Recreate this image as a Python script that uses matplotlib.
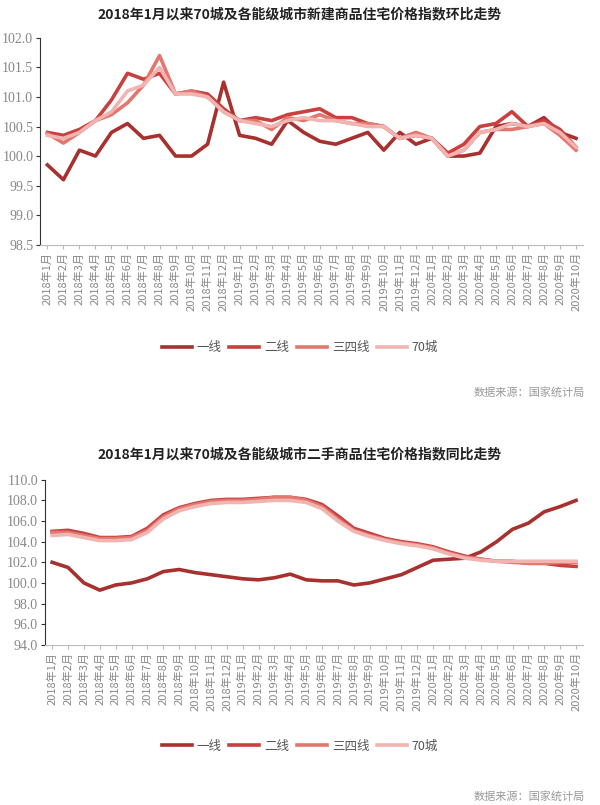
import matplotlib
matplotlib.use("Agg")
import matplotlib.pyplot as plt

plt.rcParams['font.family'] = ['Noto Sans CJK SC', 'DejaVu Sans']

months = [f"{y}年{m}月" for y in (2018, 2019, 2020) for m in range(1, 13)][:34]
names = ["一线", "二线", "三四线", "70城"]
colors = ["#a8302f", "#c9403f", "#e27770", "#f2b4b0"]

new_t1 = [99.85, 99.6, 100.1, 100.0, 100.4, 100.55, 100.3, 100.35, 100.0, 100.0, 100.2, 101.25,
          100.35, 100.3, 100.2, 100.6, 100.4, 100.25, 100.2, 100.3, 100.4, 100.1, 100.4, 100.2,
          100.3, 100.0, 100.0, 100.05, 100.5, 100.55, 100.5, 100.65, 100.4, 100.3]
new_t2 = [100.4, 100.35, 100.45, 100.6, 100.95, 101.4, 101.3, 101.4, 101.05, 101.1, 101.05, 100.8,
          100.6, 100.65, 100.6, 100.7, 100.75, 100.8, 100.65, 100.65, 100.55, 100.5, 100.3, 100.35,
          100.3, 100.05, 100.2, 100.5, 100.55, 100.75, 100.5, 100.6, 100.45, 100.15]
new_t3 = [100.38, 100.22, 100.4, 100.6, 100.7, 100.9, 101.2, 101.7, 101.05, 101.1, 101.0, 100.75,
          100.6, 100.6, 100.45, 100.65, 100.6, 100.7, 100.6, 100.55, 100.55, 100.5, 100.3, 100.4,
          100.3, 100.0, 100.1, 100.4, 100.45, 100.45, 100.5, 100.55, 100.35, 100.1]
new_70 = [100.35, 100.3, 100.4, 100.6, 100.75, 101.1, 101.2, 101.5, 101.05, 101.05, 101.0, 100.75,
          100.6, 100.55, 100.5, 100.6, 100.65, 100.6, 100.6, 100.55, 100.5, 100.5, 100.3, 100.35,
          100.3, 100.0, 100.1, 100.4, 100.45, 100.55, 100.5, 100.55, 100.4, 100.15]

old_t1 = [102.0, 101.5, 100.0, 99.3, 99.8, 100.0, 100.4, 101.1, 101.3, 101.0, 100.8, 100.6,
          100.4, 100.3, 100.5, 100.85, 100.3, 100.2, 100.2, 99.8, 100.0, 100.4, 100.8, 101.5,
          102.2, 102.3, 102.4, 103.0, 104.0, 105.2, 105.8, 106.9, 107.4, 108.0]
old_t2 = [105.0, 105.1, 104.8, 104.4, 104.4, 104.5, 105.3, 106.6, 107.3, 107.7, 108.0, 108.1,
          108.1, 108.2, 108.3, 108.3, 108.1, 107.6, 106.5, 105.3, 104.8, 104.3, 104.0, 103.8,
          103.5, 103.0, 102.6, 102.3, 102.1, 102.1, 101.9, 101.9, 101.7, 101.6]
old_t3 = [104.9, 104.9, 104.6, 104.3, 104.3, 104.4, 105.1, 106.4, 107.2, 107.6, 107.9, 108.0,
          108.0, 108.1, 108.3, 108.3, 108.0, 107.4, 106.2, 105.1, 104.6, 104.2, 103.9, 103.7,
          103.4, 102.9, 102.5, 102.3, 102.1, 102.0, 101.9, 101.9, 102.0, 102.0]
old_70 = [104.6, 104.7, 104.4, 104.1, 104.1, 104.2, 104.9, 106.2, 107.0, 107.4, 107.7, 107.8,
          107.8, 107.9, 108.0, 108.0, 107.8, 107.2, 106.0, 105.0, 104.5, 104.1, 103.8, 103.6,
          103.3, 102.8, 102.4, 102.2, 102.1, 102.1, 102.1, 102.1, 102.1, 102.1]

fig = plt.figure(figsize=(6, 8.05), dpi=100)

def panel(rect, title, series, ylim, yticks, title_y, legend_y, src_y):
    ax = fig.add_axes(rect)
    x = range(len(months))
    for s, n, c in zip(series, names, colors):
        ax.plot(x, s, color=c, lw=2.6, label=n, solid_joinstyle='round')
    ax.set_xlim(-0.45, len(months) - 0.55)
    ax.set_ylim(*ylim)
    ax.set_yticks(yticks)
    ax.set_yticklabels([f"{v:.1f}" for v in yticks], family='Liberation Serif', fontsize=10, color='#888888')
    ax.set_xticks(list(x))
    ax.set_xticklabels(months, rotation=90, fontsize=8, color='#888888')
    for sp in ('top', 'right'):
        ax.spines[sp].set_visible(False)
    ax.spines['left'].set_color('#333333')
    ax.spines['bottom'].set_color('#bbbbbb')
    ax.tick_params(axis='y', length=3, color='#333333', pad=2)
    ax.tick_params(axis='x', length=3, color='#bbbbbb', pad=2)
    fig.text(0.5, title_y, title, ha='center', va='center', fontsize=10, fontweight='bold', color='#222222')
    ax.legend(loc='center', bbox_to_anchor=(0.5, legend_y), bbox_transform=fig.transFigure,
              ncol=4, frameon=False, fontsize=9, handlelength=2.4, columnspacing=0.6,
              handletextpad=0.4, labelcolor='#555555')
    fig.text(0.975, src_y, "数据来源：国家统计局", ha='right', va='center', fontsize=8, color='#999999')
    return ax

panel([0.067, 0.696, 0.905, 0.257], "2018年1月以来70城及各能级城市新建商品住宅价格指数环比走势",
      [new_t1, new_t2, new_t3, new_70], (98.5, 102.0), [98.5 + 0.5 * i for i in range(8)],
      0.982, 0.568, 0.512)
panel([0.075, 0.199, 0.897, 0.205], "2018年1月以来70城及各能级城市二手商品住宅价格指数同比走势",
      [old_t1, old_t2, old_t3, old_70], (94.0, 110.0), [94.0 + 2 * i for i in range(9)],
      0.436, 0.073, 0.011)

fig.savefig("out.png", dpi=100)
